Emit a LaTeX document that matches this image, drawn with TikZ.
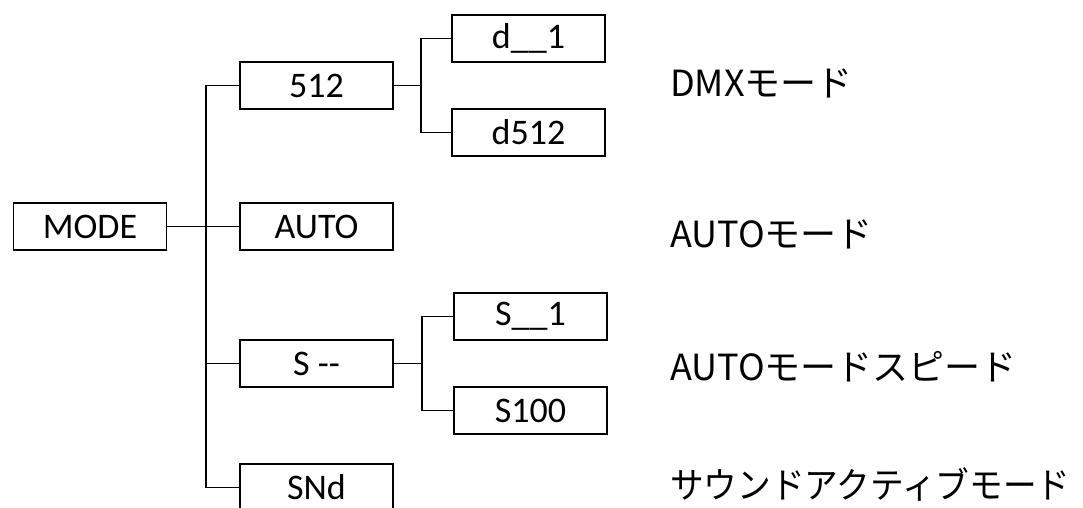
\documentclass[tikz,border=0pt]{standalone}
\usepackage{fontspec}
\usepackage{graphicx}
\setmainfont{Carlito}
\newfontfamily\jpfont{Noto Sans CJK JP}
\tikzset{
  menubox/.style={draw=black, line width=1.6pt, minimum width=153pt, minimum height=47pt,
    inner sep=0pt, font=\fontsize{36}{40}\selectfont},
  conn/.style={draw=black, line width=1.6pt},
  desc/.style={anchor=base west, inner sep=0pt, font=\jpfont\fontsize{36}{40}\selectfont}
}
\begin{document}
\begin{tikzpicture}[x=1pt,y=-1pt]
\useasboundingbox (0,0) rectangle (1083,508);
% boxes
\node[menubox] (mode) at (90,226.5) {MODE};
\node[menubox] (p512) at (316.5,85.5) {512};
\node[menubox] (auto) at (316.5,226.5) {AUTO};
\node[menubox] (sdash) at (316.5,363.5) {S {-}{-}};
\node[menubox] (snd) at (316.5,487.5) {SNd};
\node[menubox] (d1) at (528.5,38.5) {d\_\_1};
\node[menubox] (d512) at (528.5,132.5) {d512};
\node[menubox] (s1) at (530.5,316.5) {S\_\_1};
\node[menubox] (s100) at (530.5,410.5) {S100};
% junctions
\coordinate (t1) at (206,85.5);
\coordinate (j1) at (421,85.5);
\coordinate (j2) at (422,363.5);
% connectors
\draw[conn] (p512.west) -- (t1) |- (snd.west);
\draw[conn] (mode.east) -- (auto.west);
\draw[conn] (sdash.west) -- (sdash.west -| t1);
\draw[conn] (p512.east) -- (j1);
\draw[conn] (d1.west) -| (j1) |- (d512.west);
\draw[conn] (sdash.east) -- (j2);
\draw[conn] (s1.west) -| (j2) |- (s100.west);
% labels
\node[desc] (l1) at (670,97) {DMXモード};
\node[desc] (l2) at (670,247) {AUTOモード};
\node[desc] (l3) at (670,380) {AUTOモードスピード};
\node[desc] (l4) at (670,498) {\scalebox{0.935}[1]{サウンドアクティブモード}};
\end{tikzpicture}
\end{document}
